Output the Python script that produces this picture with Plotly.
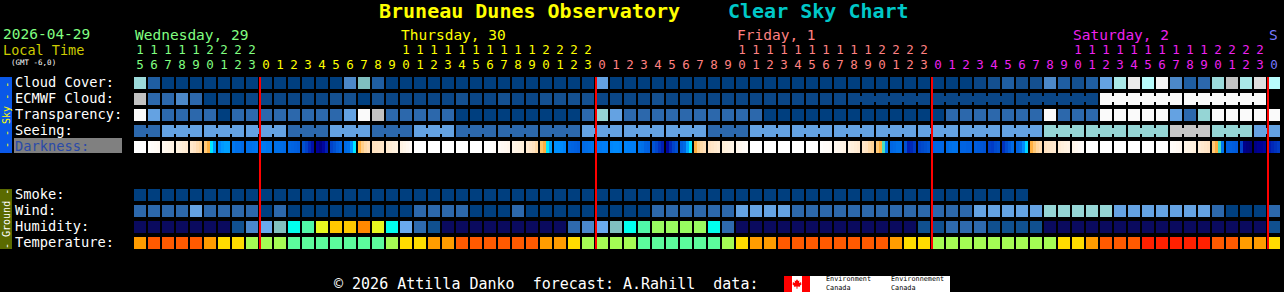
import plotly.graph_objects as go

W, H = 1284, 292
MONO = "DejaVu Sans Mono"

# ---------------- time axis ----------------
START_HOUR = 15          # first column: Wednesday 15:00 local
N_HOURS = 82
DAY_NAMES = ["Wednesday, 29", "Thursday, 30", "Friday, 1", "Saturday, 2", "S"]
DAY_COLORS = ["#80ff80", "#ffff00", "#ff8080", "#ee22ee", "#7878ff"]

# ---------------- data ----------------
# cloud cover, percent (CMC)
CLOUD_COVER = [
    65, 20, 0, 0, 0, 0, 0, 0, 0,
    0, 0, 0, 0, 0, 0, 40, 60, 20, 0, 0, 0, 0, 0, 0, 0, 0, 0, 0, 0, 0, 0, 0, 0,
    50, 0, 0, 0, 0, 0, 0, 0, 0, 0, 0, 0, 0, 0, 0, 0, 0, 0, 0, 0, 0, 0, 0, 0,
    0, 0, 0, 5, 10, 20, 10, 10, 40, 20, 10, 20, 50, 70, 90, 75, 95, 40, 20, 30, 65, 80, 70, 85,
    75,
]
# ECMWF cloud, percent: hourly values, then 6-hour values
ECMWF_HOURLY = [
    80, 30, 30, 40, 30, 0, 5, 0, 5,
    5, 5, 5, 5, 5, 10, 10, 0, 10, 5, 5, 5, 5, 5, 10, 5, 5, 10, 5, 5, 10, 10, 10, 10,
    5, 5, 5, 5, 10, 5, 5, 5, 5, 5, 5, 5, 5, 5, 5, 5, 5, 5,
]
ECMWF_6H = [5, 5, 5, 100, 100]

# transparency class: 0 transparent .. 5 too cloudy
TRANSPARENCY = [
    5, 2, 1, 1, 1, 1, 0, 1, 1,
    1, 1, 1, 1, 1, 1, 2, 5, 4, 1, 1, 1, 1, 1, 0, 0, 0, 0, 0, 0, 0, 0, 0, 1,
    3, 2, 1, 1, 1, 1, 1, 1, 1, 1, 1, 1, 0, 0, 0, 0, 0, 0, 0, 0, 0, 0, 0, 0,
    0, 1, 1, 1, 1, 1, 1, 1, 5, 1, 1, 1, 5, 5, 5, 5, 5, 2, 1, 3, 5, 5, 5, 5,
    5,
]
# seeing, 3-hour blocks: 0 too cloudy, 1 bad .. 5 excellent
SEEING = [4, 3, 3, 3, 4, 3, 4, 3, 4, 4, 4, 3, 3, 3, 4, 3, 3, 3, 3, 3, 3, 3, 2, 2, 2, 1, 2, 3]

# darkness (limiting magnitude), 4 samples per hour
DARKNESS = [
    (-4.0, -4.0, -4.0, -4.0), (-3.8, -3.6, -3.4, -3.2), (-3.0, -2.8, -2.6, -2.4),
    (-2.2, -2.0, -1.8, -1.6), (-1.4, -1.1, -0.8, -0.6), (-0.3, 0.0, 0.6, 1.8),
    (2.3, 1.8, 1.6, 1.6), (2.8, 3.0, 3.0, 3.2), (3.0, 3.0, 2.9, 2.8),
    # Thursday
    (2.7, 2.7, 2.8, 2.8), (3.0, 3.0, 3.1, 3.2), (3.3, 3.4, 3.5, 3.6),
    (4.0, 4.5, 5.0, 5.5), (6.0, 6.3, 5.8, 5.2), (4.4, 4.0, 3.6, 3.4),
    (3.2, 3.0, 2.0, 0.6), (0.0, -0.4, -0.7, -0.9), (-1.0, -1.1, -1.2, -1.3),
    (-1.6, -1.8, -2.0, -2.2), (-2.4, -2.7, -3.0, -3.3), (-4.0, -4.0, -4.0, -4.0),
    (-4.0, -4.0, -4.0, -4.0), (-4.0, -4.0, -4.0, -4.0), (-4.0, -4.0, -4.0, -4.0),
    (-4.0, -4.0, -4.0, -4.0), (-4.0, -4.0, -3.8, -3.6), (-3.4, -3.2, -3.0, -2.8),
    (-2.6, -2.4, -2.2, -2.0), (-1.6, -1.3, -1.0, -0.7), (-0.2, 0.0, 0.6, 1.6),
    (2.0, 2.0, 2.2, 2.4), (3.3, 3.4, 3.5, 3.6), (3.2, 3.1, 3.0, 2.9),
    # Friday
    (2.7, 2.7, 2.6, 2.6), (2.3, 2.2, 2.2, 2.3), (2.4, 2.5, 2.6, 2.6),
    (2.9, 3.0, 3.4, 3.5), (3.9, 4.3, 4.8, 5.2), (5.8, 5.0, 4.4, 4.0),
    (3.5, 3.2, 1.6, 0.6), (0.0, -0.4, -0.7, -0.9), (-1.1, -1.3, -1.5, -1.7),
    (-1.9, -2.1, -2.3, -2.5), (-2.8, -3.0, -3.3, -3.6), (-4.0, -4.0, -4.0, -4.0),
    (-4.0, -4.0, -4.0, -4.0), (-4.0, -4.0, -4.0, -4.0), (-4.0, -4.0, -4.0, -4.0),
    (-4.0, -4.0, -4.0, -4.0), (-3.8, -3.6, -3.5, -3.4), (-3.0, -2.8, -2.6, -2.4),
    (-2.2, -2.0, -1.8, -1.6), (-1.3, -1.0, -0.7, -0.5), (-0.3, 0.0, 0.3, 2.5),
    (3.3, 3.2, 3.0, 3.0), (4.0, 5.2, 5.0, 4.6), (4.4, 4.2, 4.0, 3.8),
    # Saturday
    (3.4, 3.3, 3.3, 3.3), (3.2, 3.0, 2.9, 2.9), (3.4, 3.4, 3.5, 3.5),
    (3.6, 3.7, 3.8, 3.9), (4.5, 4.6, 4.2, 4.0), (4.8, 4.2, 3.7, 3.2),
    (3.4, 3.2, 2.2, 0.8), (0.0, -0.3, -0.6, -0.8), (-1.0, -1.2, -1.4, -1.6),
    (-1.8, -2.0, -2.2, -2.4), (-2.7, -3.0, -3.3, -3.6), (-4.0, -4.0, -4.0, -4.0),
    (-4.0, -4.0, -4.0, -4.0), (-4.0, -4.0, -4.0, -4.0), (-4.0, -4.0, -4.0, -4.0),
    (-4.0, -4.0, -4.0, -4.0), (-4.0, -4.0, -4.0, -4.0), (-3.6, -3.4, -3.2, -3.0),
    (-2.6, -2.4, -2.2, -2.0), (-1.7, -1.5, -1.3, -1.1), (-0.3, 0.0, 0.3, 2.8),
    (3.5, 3.5, 3.6, 3.7), (4.4, 6.2, 6.4, 6.5), (6.3, 6.1, 6.0, 5.8),
    # Sunday
    (5.3, 5.0, 4.8, 4.6),
]

# smoke class (0 = none) - available for the first 64 hours
SMOKE = [
    0, 0, 0, 0, 0, 0, 0, 0, 0, 0, 0, 0, 0, 0, 0, 0,
    0, 0, 0, 0, 0, 0, 0, 0, 0, 0, 0, 0, 0, 0, 0, 0,
    0, 0, 0, 0, 0, 0, 0, 0, 0, 0, 0, 0, 0, 0, 0, 0,
    0, 0, 0, 0, 0, 0, 0, 0, 0, 0, 0, 0, 0, 0, 0, 0,
]
# wind class: 0 0-5 mph, 1 6-11, 2 12-16, 3 17-28
WIND = [
    1, 1, 1, 1, 2, 1, 1, 1, 1,
    0, 1, 0, 0, 0, 0, 0, 0, 0, 0, 0, 1, 1, 1, 1, 0, 0, 0, 1, 0, 0, 0, 0, 0,
    0, 0, 0, 0, 1, 1, 1, 1, 1, 1, 2, 2, 2, 2, 1, 1, 1, 1, 1, 1, 1, 1, 1, 1,
    1, 1, 1, 2, 2, 2, 2, 2, 3, 3, 3, 3, 3, 2, 2, 2, 2, 2, 2, 2, 1, 0, 0, 0,
    1,
]
# humidity class: 0 <25% ... 11 75-80%
HUMIDITY = [
    0, 0, 0, 0, 0, 0, 0, 1, 3,
    4, 5, 6, 7, 9, 10, 10, 11, 9, 6, 4, 2, 1, 0, 0, 0, 0, 0, 0, 0, 0, 0, 2, 3,
    4, 5, 6, 7, 8, 8, 8, 8, 6, 2, 0, 0, 0, 0, 0, 0, 0, 0, 0, 0, 0, 0, 0, 1,
    1, 2, 2, 2, 1, 1, 1, 1, 0, 0, 0, 0, 0, 0, 0, 0, 0, 0, 0, 0, 0, 0, 0, 0,
    1,
]
# temperature class: 0 41-50F, 1 50-59F, 2 59-68F, 3 68-77F, 4 77-86F, 5 86-95F
TEMPERATURE = [
    3, 4, 4, 4, 4, 3, 2, 2, 1,
    1, 1, 0, 0, 0, 0, 0, 0, 0, 1, 2, 2, 3, 3, 4, 4, 4, 4, 4, 4, 3, 3, 2, 1,
    1, 1, 1, 0, 0, 0, 0, 0, 0, 1, 2, 3, 3, 4, 4, 4, 4, 4, 4, 4, 4, 3, 2, 2,
    1, 1, 1, 1, 1, 1, 1, 1, 1, 2, 2, 3, 4, 4, 4, 5, 5, 5, 5, 5, 4, 4, 3, 3,
    2,
]

# ---------------- colour scales ----------------
CLOUD_LEVELS = [0, 5, 10, 20, 30, 40, 50, 60, 65, 70, 75, 80, 85, 90, 95, 100]
CLOUD_COLORS = ["#003f7f", "#0a4686", "#145090", "#1f5ea2", "#2c68ac", "#4c88c8",
                "#64a2e2", "#7fbfbf", "#9cdada", "#aae8e8", "#b8fcfc", "#c2c2c2",
                "#dedede", "#eaeaea", "#f4f4f4", "#fafafa"]
TRANSP_COLORS = ["#003f7f", "#2c68ac", "#64a2e2", "#95d5d5", "#c2c2c2", "#fafafa"]
SEEING_COLORS = ["#fafafa", "#c6c6c6", "#95d5d5", "#64a2e2", "#2c68ac", "#003f7f"]
SMOKE_COLORS = ["#003f7f", "#2c68ac", "#64a2e2", "#95d5d5"]
WIND_COLORS = ["#003f7f", "#2c68ac", "#64a2e2", "#95d5d5", "#c6c6c6", "#fafafa"]
HUM_COLORS = ["#0a0a5e", "#10508f", "#2e6aae", "#4a88cc", "#6aaaee", "#80c0c0",
              "#00ffee", "#50f8a8", "#98fc60", "#e8f820", "#ffc800", "#ff8800"]
TEMP_COLORS = ["#5cfc9c", "#a4fc54", "#ffdc00", "#ff9c00", "#ff5a00", "#ff2000"]
DARK_STOPS = [(-4.0, "#ffffff"), (-3.0, "#fff8f0"), (-2.0, "#fff0dc"), (-1.0, "#ffe2c0"),
              (-0.5, "#ffd498"), (-0.2, "#ffc468"), (0.0, "#ffb040"), (0.15, "#ffb040"),
              (0.3, "#48e0c0"), (0.6, "#00e8ff"), (1.0, "#00c4ff"), (1.6, "#00a0ff"),
              (2.0, "#0090ff"), (2.5, "#0080f8"), (3.0, "#0070e8"), (3.5, "#0060e0"),
              (4.0, "#0050d0"), (4.5, "#0040c8"), (5.0, "#0028b8"), (5.5, "#0010a8"),
              (6.0, "#000098"), (6.5, "#000078")]

# ---------------- layout constants ----------------
X0_PX, PITCH = 134, 14
CW = 12 / PITCH
SKY_TOPS = [77, 93, 109, 125, 141]
GROUND_TOPS = [189, 205, 221, 237]
ROW_H = 12

hours = [(START_HOUR + i) % 24 for i in range(N_HOURS)]
day_of = [(START_HOUR + i) // 24 for i in range(N_HOURS)]


def step_scale(colors):
    n = len(colors)
    cs = []
    for k, c in enumerate(colors):
        cs += [[k / n, c], [(k + 1) / n, c]]
    return cs


def row_trace(vals, top, colorscale, zmin, zmax, block=None, sub=1):
    n = len(vals)
    edges, mid, edge = [], [], []
    for i in range(n):
        v = list(vals[i]) if sub > 1 else [vals[i]]
        for k in range(sub):
            edges.append(i + CW * k / sub)
            mid.append(v[k])
            edge.append(v[k])
        edges.append(i + CW)
        if i < n - 1:
            bridged = block is not None and block[i] == block[i + 1]
            mid.append(v[-1] if bridged else None)
            edge.append(None)
    if block is not None:
        ye = [top, top + 3, top + 9, top + ROW_H]
        z = [edge, mid, edge]
    else:
        ye = [top, top + ROW_H]
        z = [mid]
    return go.Heatmap(x=edges, y=ye, z=z, colorscale=colorscale, zmin=zmin, zmax=zmax,
                      showscale=False, hoverinfo="skip")


def cat(values, colors):
    return [v + 0.5 for v in values], step_scale(colors), 0, len(colors)


fig = go.Figure()

# cloud cover
z, cs, a, b = cat([CLOUD_LEVELS.index(v) for v in CLOUD_COVER], CLOUD_COLORS)
fig.add_trace(row_trace(z, SKY_TOPS[0], cs, a, b))

# ECMWF
n_h = len(ECMWF_HOURLY)
ecm_vals = list(ECMWF_HOURLY)
ecm_block = list(range(n_h))
for bi, v in enumerate(ECMWF_6H):
    for k in range(6):
        if len(ecm_vals) < N_HOURS:
            ecm_vals.append(v)
            ecm_block.append(n_h + bi)
z, cs, a, b = cat([CLOUD_LEVELS.index(v) for v in ecm_vals], CLOUD_COLORS)
fig.add_trace(row_trace(z, SKY_TOPS[1], cs, a, b, block=ecm_block))

# transparency
z, cs, a, b = cat(TRANSPARENCY, TRANSP_COLORS)
fig.add_trace(row_trace(z, SKY_TOPS[2], cs, a, b))

# seeing (3-hour blocks)
see_block, see_vals, bcount = [], [], -1
for i in range(N_HOURS):
    if i == 0 or hours[i] % 3 == 2:
        bcount += 1
    see_block.append(bcount)
    see_vals.append(SEEING[bcount])
z, cs, a, b = cat(see_vals, SEEING_COLORS)
fig.add_trace(row_trace(z, SKY_TOPS[3], cs, a, b, block=see_block))

# darkness
dmin, dmax = DARK_STOPS[0][0], DARK_STOPS[-1][0]
dark_cs = [[(v - dmin) / (dmax - dmin), c] for v, c in DARK_STOPS]
fig.add_trace(row_trace(DARKNESS, SKY_TOPS[4], dark_cs, dmin, dmax, sub=4))

# ground rows
for vals, colors, top in [(SMOKE, SMOKE_COLORS, GROUND_TOPS[0]), (WIND, WIND_COLORS, GROUND_TOPS[1]),
                          (HUMIDITY, HUM_COLORS, GROUND_TOPS[2]), (TEMPERATURE, TEMP_COLORS, GROUND_TOPS[3])]:
    z, cs, a, b = cat(vals, colors)
    fig.add_trace(row_trace(z, top, cs, a, b))

# midnight lines
mx, my = [], []
for i in range(N_HOURS):
    if hours[i] == 0:
        mx += [i, i, None]
        my += [SKY_TOPS[0], GROUND_TOPS[-1] + ROW_H, None]
fig.add_trace(go.Scatter(x=mx, y=my, mode="lines", line=dict(color="#ff0000", width=2),
                         hoverinfo="skip", showlegend=False))

# hour labels
cx = [i + CW / 2 for i in range(N_HOURS)]
cols = [DAY_COLORS[d] for d in day_of]
fig.add_trace(go.Scatter(x=cx, y=[66] * N_HOURS, mode="text", text=[str(h % 10) for h in hours],
                         textfont=dict(family=MONO, size=12.5, color=cols), hoverinfo="skip",
                         showlegend=False))
tens_idx = [i for i in range(N_HOURS) if hours[i] >= 10]
fig.add_trace(go.Scatter(x=[cx[i] for i in tens_idx], y=[51] * len(tens_idx), mode="text",
                         text=[str(hours[i] // 10) for i in tens_idx],
                         textfont=dict(family=MONO, size=12.5, color=[cols[i] for i in tens_idx]),
                         hoverinfo="skip", showlegend=False))

anns = []


def ann(text, x, y, size=15, color="#ffffff", family=MONO, xanchor="left", **kw):
    d = dict(text=text, x=x / W, y=1 - y / H, xref="paper", yref="paper", showarrow=False,
             xanchor=xanchor, yanchor="middle", borderpad=0,
             font=dict(family=family, size=size, color=color))
    d.update(kw)
    return d


# day labels (data coordinates)
for d, name in enumerate(DAY_NAMES):
    idx = [i for i in range(N_HOURS) if day_of[i] == d]
    two = [i for i in idx if hours[i] >= 10]
    anchor = two[0] if two else idx[0]
    anns.append(dict(text=name, x=anchor, y=34.5, xref="x", yref="y", showarrow=False,
                     xanchor="left", yanchor="middle", borderpad=0,
                     font=dict(family=MONO, size=14.5, color=DAY_COLORS[d])))

anns += [
    ann("<b>Bruneau Dunes Observatory</b>", 378, 11.5, size=20, color="#ffff00"),
    ann("<b>Clear Sky Chart</b>", 727, 11.5, size=20, color="#00c8c8"),
    ann("2026-04-29", 2, 34.5, size=14.5, color="#80ff80"),
    ann("Local Time", 2, 50, size=13.5, color="#cccc00"),
    ann("(GMT -6,0)", 10, 62.5, size=7.5, color="#ffffff"),
]
SKY_LABELS = ["Cloud Cover:", "ECMWF Cloud:", "Transparency:", "Seeing:", "Darkness:"]
for lab, top in zip(SKY_LABELS, SKY_TOPS):
    anns.append(ann(lab, 14, top + 5, size=13.7,
                    color="#2a4aa8" if lab == "Darkness:" else "#ffffff"))
GROUND_LABELS = ["Smoke:", "Wind:", "Humidity:", "Temperature:"]
for lab, top in zip(GROUND_LABELS, GROUND_TOPS):
    anns.append(ann(lab, 14, top + 5, size=13.7))
anns.append(ann("- - Sky - -", 6, 115, size=10, color="#ffff00", xanchor="center", textangle=-90))
anns.append(ann("- Ground -", 6, 219, size=10, color="#ffffff", xanchor="center", textangle=-90))
anns.append(ann("\u00a9 2026 Attilla Danko\u00a0\u00a0forecast: A.Rahill\u00a0\u00a0data:", 333, 284))
anns.append(ann("Environment<br>Canada", 825, 283, size=6.8, color="#000000", align="left"))
anns.append(ann("Environnement<br>Canada", 890, 283, size=6.8, color="#000000", align="left"))


def rect(x0, y0, x1, y1, color):
    return dict(type="rect", xref="paper", yref="paper", x0=x0 / W, x1=x1 / W,
                y0=1 - y0 / H, y1=1 - y1 / H, fillcolor=color, line=dict(width=0), layer="below")


def leaf(cx, cy, s):
    pts = [(0, -4), (1, -2.5), (2, -3), (1.6, -0.8), (3.6, -1.6), (3.2, -0.6), (4, 0),
           (2.4, 1.4), (2.6, 2.2), (0.4, 2), (0.4, 4), (-0.4, 4), (-0.4, 2), (-2.6, 2.2),
           (-2.4, 1.4), (-4, 0), (-3.2, -0.6), (-3.6, -1.6), (-1.6, -0.8), (-2, -3), (-1, -2.5)]
    path = "M " + " L ".join(f"{(cx + px * s) / W:.6f},{1 - (cy + py * s) / H:.6f}" for px, py in pts) + " Z"
    return dict(type="path", xref="paper", yref="paper", path=path, fillcolor="#ff0000",
                line=dict(width=0))


shapes = [
    rect(0, 77, 12, 153, "#0a58e8"),
    rect(0, 189, 12, 249, "#5a6a00"),
    rect(14, 138, 122, 153, "#808080"),
    rect(784, 276, 792, 292, "#ff0000"),
    rect(792, 276, 802, 292, "#ffffff"),
    rect(802, 276, 810, 292, "#ff0000"),
    rect(810, 276, 950, 292, "#ffffff"),
    leaf(797, 284, 1.2),
]

fig.update_layout(
    width=W, height=H, margin=dict(l=0, r=0, t=0, b=0),
    paper_bgcolor="#000000", plot_bgcolor="#000000",
    xaxis=dict(range=[-X0_PX / PITCH, (W - X0_PX) / PITCH], visible=False, fixedrange=True),
    yaxis=dict(range=[H, 0], visible=False, fixedrange=True),
    showlegend=False, annotations=anns, shapes=shapes,
)
fig.write_html("out.html")
